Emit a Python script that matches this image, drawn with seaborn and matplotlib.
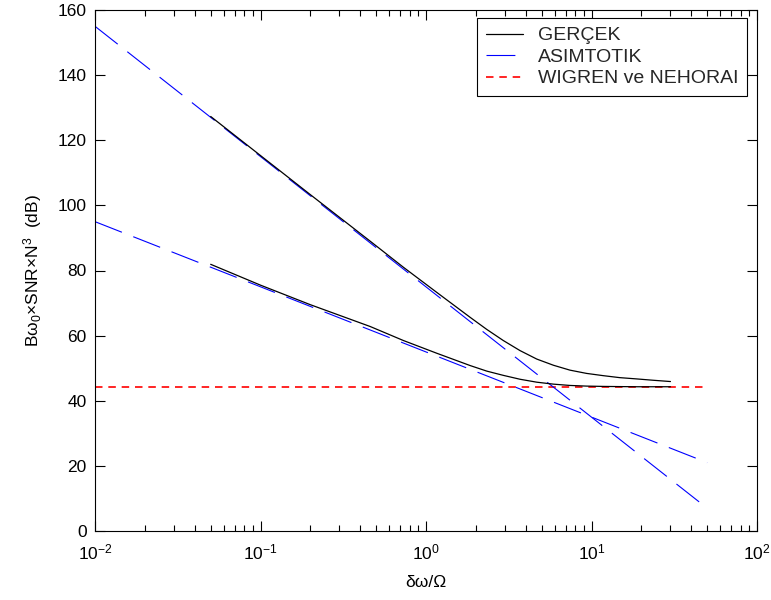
import matplotlib
matplotlib.use("Agg")
import matplotlib.pyplot as plt
import seaborn as sns
from matplotlib.lines import Line2D

# Asymptotic straight lines (log-frequency axis), given by their end points
x_asym = [0.01, 50.0]
asym_steep = [155.0, 7.0]
asym_shallow = [95.0, 21.0]

# Reference bound (WIGREN ve NEHORAI)
x_ref = [0.01, 50.0]
ref_level = [44.3, 44.3]

# Exact bound curves (GERÇEK)
x_true = [0.05, 0.1, 0.2, 0.46, 0.73, 1.16, 1.85, 2.33, 2.93, 3.70, 4.67,
          5.89, 7.41, 9.33, 11.8, 14.8, 18.8, 23.5, 30.0]
true_upper = [127.3, 115.3, 103.3, 89.0, 81.0, 73.3, 65.6, 61.9, 58.5, 55.4, 52.8,
              50.9, 49.4, 48.4, 47.7, 47.1, 46.7, 46.3, 45.9]
true_lower = [81.9, 75.5, 69.5, 62.8, 58.5, 54.6, 50.8, 49.1, 47.8, 46.6, 45.7,
              45.1, 44.7, 44.5, 44.4, 44.35, 44.3, 44.3, 44.3]

legend_labels = ["GERÇEK", "ASIMTOTIK", "WIGREN ve NEHORAI"]
y_ticks = [0, 20, 40, 60, 80, 100, 120, 140, 160]

sns.set_theme(style="white")
plt.rcParams["font.family"] = ["Liberation Sans", "DejaVu Sans"]
plt.rcParams["mathtext.fontset"] = "custom"
plt.rcParams["mathtext.rm"] = "Liberation Sans"
plt.rcParams["mathtext.it"] = "Liberation Sans:italic"
plt.rcParams["mathtext.bf"] = "Liberation Sans:bold"
plt.rcParams["axes.unicode_minus"] = False

FS = 12.5
long_dash = (0, (26, 11))
short_dash = (0, (4.5, 3.5))

fig = plt.figure(figsize=(7.71, 6.0), dpi=100)
ax = fig.add_axes([95 / 771, 1 - 531 / 600, 662 / 771, 521 / 600])

sns.lineplot(x=x_ref, y=ref_level, ax=ax, color="#ff0000", lw=1.2,
             linestyle=short_dash, estimator=None, sort=False)
sns.lineplot(x=x_asym, y=asym_steep, ax=ax, color="#0000ff", lw=0.8,
             linestyle=long_dash, estimator=None, sort=False)
sns.lineplot(x=x_asym, y=asym_shallow, ax=ax, color="#0000ff", lw=0.8,
             linestyle=long_dash, estimator=None, sort=False)
sns.lineplot(x=x_true, y=true_upper, ax=ax, color="black", lw=0.9,
             estimator=None, sort=False)
sns.lineplot(x=x_true, y=true_lower, ax=ax, color="black", lw=0.9,
             estimator=None, sort=False)

ax.set_xscale("log")
ax.set_xlim(0.01, 100)
ax.set_ylim(0, 160)
ax.set_yticks(y_ticks)

for s in ax.spines.values():
    s.set_color("black")
    s.set_linewidth(0.8)

ax.tick_params(which="both", direction="in", bottom=True, top=True,
               left=True, right=True, colors="black", labelsize=FS)
ax.tick_params(which="major", length=7, width=0.8)
ax.tick_params(which="minor", length=4, width=0.8)
ax.tick_params(axis="x", which="major", pad=8)
ax.tick_params(axis="y", which="major", pad=6)

ax.set_xlabel("δω/Ω", fontsize=FS, color="black", labelpad=9)
ax.set_ylabel(r"Bω$_0$×SNR×N$^3$  (dB)", fontsize=FS,
              color="black", labelpad=10)

handles = [
    Line2D([], [], color="black", lw=0.9),
    Line2D([], [], color="#0000ff", lw=0.8, linestyle=long_dash),
    Line2D([], [], color="#ff0000", lw=1.2, linestyle=short_dash),
]
leg = ax.legend(handles, legend_labels, loc="upper right",
                bbox_to_anchor=(1 - 10 / 662, 1 - 8 / 521), borderaxespad=0,
                prop={"size": 14}, frameon=True, fancybox=False, framealpha=1,
                edgecolor="black", handlelength=1.9, handletextpad=0.75,
                labelspacing=0.2, borderpad=0.45)
leg.get_frame().set_linewidth(0.8)

fig.savefig("out.png", dpi=100)
